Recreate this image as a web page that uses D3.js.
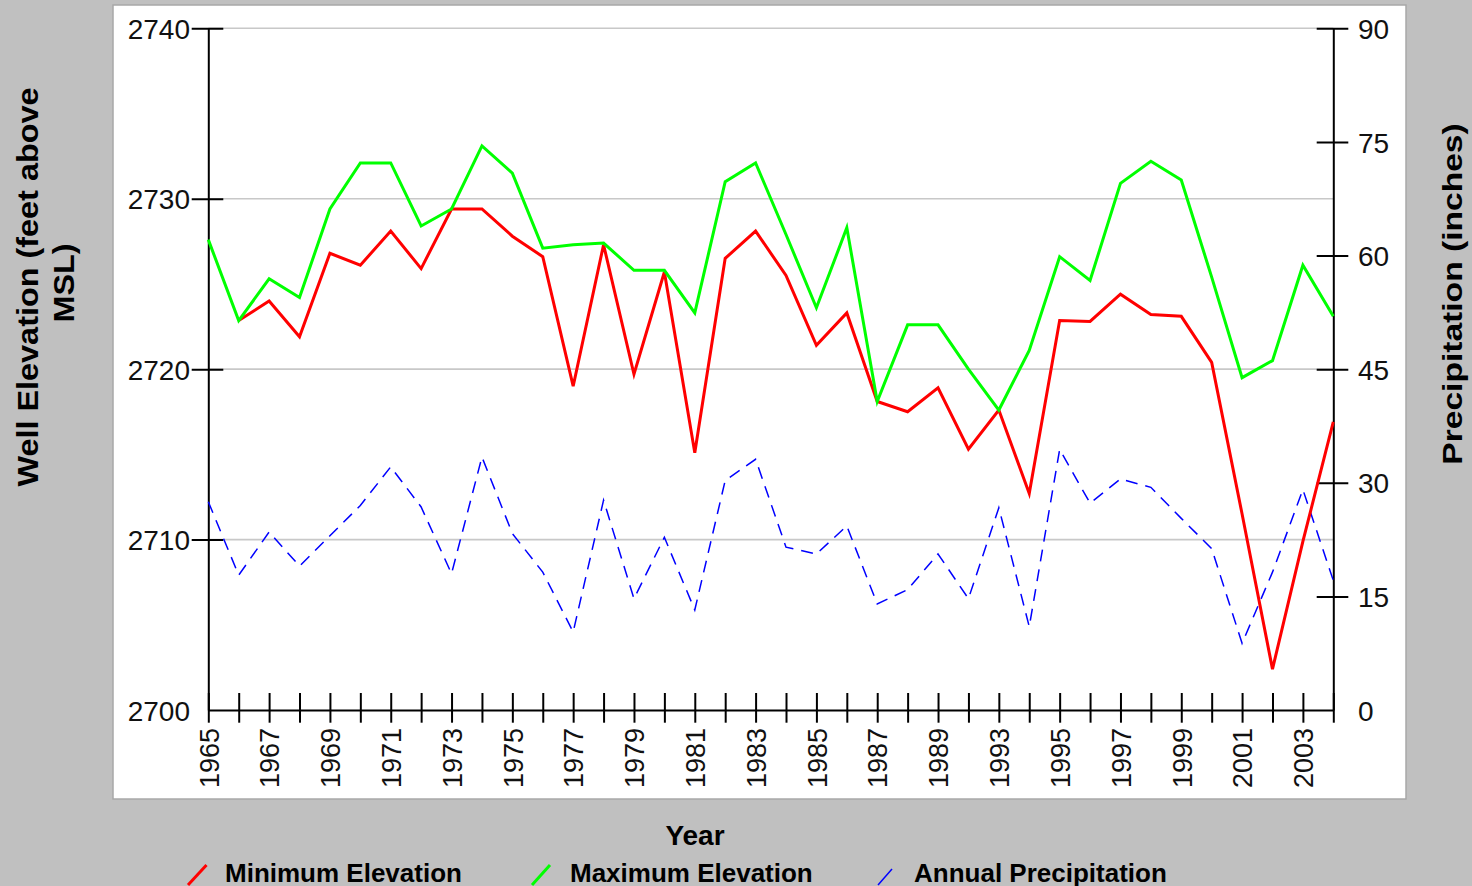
<!DOCTYPE html>
<html>
<head>
<meta charset="utf-8">
<script src="https://cdn.jsdelivr.net/npm/d3@7"></script>
<style>
  body { margin: 0; background: #c0c0c0; }
  svg { display: block; }
</style>
</head>
<body>
<svg id="chart" width="1472" height="886"></svg>
<script>
// categories (1990 and 1992 are not in the record)
var years = ["1965","1966","1967","1968","1969","1970","1971","1972","1973","1974",
             "1975","1976","1977","1978","1979","1980","1981","1982","1983","1984",
             "1985","1986","1987","1988","1989","1991","1993","1994","1995","1996",
             "1997","1998","1999","2000","2001","2002","2003","2004"];

var minElev = [null, 2722.85, 2724.0, 2721.9, 2726.8, 2726.1, 2728.1, 2725.9, 2729.4, 2729.4,
               2727.8, 2726.6, 2719.0, 2727.3, 2719.7, 2725.7, 2715.1, 2726.5, 2728.1, 2725.5,
               2721.4, 2723.3, 2718.1, 2717.5, 2718.9, 2715.3, 2717.6, 2712.7, 2722.85, 2722.8,
               2724.4, 2723.2, 2723.1, 2720.4, 2711.5, 2702.4, 2709.9, 2716.9];

var maxElev = [2727.6, 2722.85, 2725.3, 2724.2, 2729.4, 2732.1, 2732.1, 2728.4, 2729.4, 2733.1,
               2731.5, 2727.1, 2727.3, 2727.4, 2725.8, 2725.8, 2723.3, 2731.0, 2732.1, 2727.9,
               2723.6, 2728.3, 2718.1, 2722.6, 2722.6, 2720.0, 2717.6, 2721.1, 2726.6, 2725.2,
               2730.9, 2732.2, 2731.1, 2725.4, 2719.5, 2720.5, 2726.1, 2723.1];

var precip = [27.5, 17.8, 23.5, 19.0, 23.0, 27.0, 32.1, 26.8, 18.0, 33.4,
              23.3, 18.2, 10.3, 27.7, 14.7, 22.8, 13.2, 30.3, 33.1, 21.5,
              20.6, 24.3, 14.0, 15.9, 20.6, 14.7, 26.7, 11.0, 34.4, 27.3,
              30.5, 29.4, 25.3, 21.3, 8.8, 18.2, 29.1, 17.1];

var leftTicks = [2700, 2710, 2720, 2730, 2740];
var rightTicks = [0, 15, 30, 45, 60, 75, 90];

var seriesNames = ["Minimum Elevation", "Maximum Elevation", "Annual Precipitation"];
var seriesColors = ["#ff0000", "#00ff00", "#0000ff"];

var fontFam = "'Liberation Sans', Arial, sans-serif";

var svg = d3.select("#chart");

var plotL = 208.3, plotR = 1333.3, plotT = 28.3, plotB = 710;

var x = d3.scalePoint().domain(years).range([plotL, plotR]);
var yL = d3.scaleLinear().domain([2700, 2740]).range([plotB, plotT]);
var yR = d3.scaleLinear().domain([0, 90]).range([plotB, plotT]);

// white chart panel
svg.append("rect")
   .attr("x", 113).attr("y", 5)
   .attr("width", 1293).attr("height", 794)
   .attr("fill", "#ffffff")
   .attr("stroke", "#a8a8a8")
   .attr("stroke-width", 1.5);

// grid lines
svg.append("g").selectAll("line")
   .data(leftTicks.filter(function(d){ return d > 2700; }))
   .enter().append("line")
   .attr("x1", plotL).attr("x2", plotR)
   .attr("y1", function(d){ return yL(d); })
   .attr("y2", function(d){ return yL(d); })
   .attr("stroke", "#c8c8c8")
   .attr("stroke-width", 1.6);

// left axis
var gL = svg.append("g")
   .attr("transform", "translate(" + plotL + ",0)")
   .call(d3.axisLeft(yL).tickValues(leftTicks).tickFormat(d3.format("d"))
          .tickSize(16.6).tickSizeOuter(0).tickPadding(1.7));
gL.selectAll(".tick line").attr("x1", 15);
gL.selectAll(".tick").filter(function(d){ return d === 2700; }).select("line").remove();

// right axis
var gR = svg.append("g")
   .attr("transform", "translate(" + plotR + ",0)")
   .call(d3.axisRight(yR).tickValues(rightTicks).tickFormat(d3.format("d"))
          .tickSize(15).tickSizeOuter(0).tickPadding(9.7));
gR.selectAll(".tick line").attr("x1", -16.6);
gR.selectAll(".tick").filter(function(d){ return d === 0; }).select("line").remove();

// bottom axis
var gB = svg.append("g")
   .attr("transform", "translate(0," + plotB + ")")
   .call(d3.axisBottom(x).tickSize(12.7).tickSizeOuter(0)
          .tickFormat(function(d, i){ return i % 2 === 0 ? d : ""; }));
gB.selectAll(".tick line").attr("y1", -17);
gB.selectAll(".tick text")
   .attr("transform", "rotate(-90)")
   .attr("x", -18)
   .attr("y", 0)
   .attr("dy", "0.36em")
   .style("text-anchor", "end")
   .style("font-size", "27px");

[gL, gR, gB].forEach(function(g) {
  g.select(".domain").attr("stroke", "#000").attr("stroke-width", 2);
  g.selectAll(".tick line").attr("stroke", "#000").attr("stroke-width", 2);
  g.selectAll("text").attr("fill", "#111").style("font-family", fontFam);
});
gL.selectAll("text").style("font-size", "28px").attr("dy", "0.36em");
gR.selectAll("text").style("font-size", "28px").attr("dy", "0.36em");

// lines
var data = years.map(function(yr, i) {
  return { year: yr, mn: minElev[i], mx: maxElev[i], p: precip[i] };
});

var linePrecip = d3.line()
  .x(function(d){ return x(d.year); })
  .y(function(d){ return yR(d.p); });
var lineMin = d3.line()
  .defined(function(d){ return d.mn !== null; })
  .x(function(d){ return x(d.year); })
  .y(function(d){ return yL(d.mn); });
var lineMax = d3.line()
  .x(function(d){ return x(d.year); })
  .y(function(d){ return yL(d.mx); });

svg.append("path").datum(data)
   .attr("fill", "none")
   .attr("stroke", seriesColors[2])
   .attr("stroke-width", 1.5)
   .attr("stroke-dasharray", "12,8")
   .attr("d", linePrecip);

svg.append("path").datum(data)
   .attr("fill", "none")
   .attr("stroke", seriesColors[0])
   .attr("stroke-width", 3)
   .attr("d", lineMin);

svg.append("path").datum(data)
   .attr("fill", "none")
   .attr("stroke", seriesColors[1])
   .attr("stroke-width", 3)
   .attr("d", lineMax);

// axis titles
svg.append("text")
   .attr("transform", "translate(38,287) rotate(-90) scale(1.08,1)")
   .style("text-anchor", "middle")
   .style("font-family", fontFam)
   .style("font-weight", "bold")
   .style("font-size", "30px")
   .attr("fill", "#000")
   .text("Well Elevation (feet above");
svg.append("text")
   .attr("transform", "translate(74,283) rotate(-90) scale(1.08,1)")
   .style("text-anchor", "middle")
   .style("font-family", fontFam)
   .style("font-weight", "bold")
   .style("font-size", "30px")
   .attr("fill", "#000")
   .text("MSL)");

svg.append("text")
   .attr("transform", "translate(1462,294) rotate(-90) scale(1.2,1)")
   .style("text-anchor", "middle")
   .style("font-family", fontFam)
   .style("font-weight", "bold")
   .style("font-size", "28px")
   .attr("fill", "#000")
   .text("Precipitation (inches)");

svg.append("text")
   .attr("x", 695).attr("y", 845)
   .style("text-anchor", "middle")
   .style("font-family", fontFam)
   .style("font-weight", "bold")
   .style("font-size", "28px")
   .attr("fill", "#000")
   .text("Year");

// legend
var legendX = [188, 532, 878];
var legendW = [18.5, 18, 14];
var legend = svg.append("g").selectAll("g")
   .data(seriesNames)
   .enter().append("g")
   .attr("transform", function(d, i){ return "translate(" + legendX[i] + ",0)"; });

legend.append("line")
   .attr("x1", 0).attr("y1", 885)
   .attr("x2", function(d, i){ return legendW[i]; })
   .attr("y2", function(d, i){ return i === 2 ? 869 : 865; })
   .attr("stroke", function(d, i){ return seriesColors[i]; })
   .attr("stroke-width", function(d, i){ return i === 2 ? 1.5 : 3; });

legend.append("text")
   .attr("x", function(d, i){ return i === 2 ? 36 : (i === 0 ? 37 : 38); })
   .attr("y", 882)
   .style("font-family", fontFam)
   .style("font-weight", "bold")
   .style("font-size", "26px")
   .attr("fill", "#000")
   .text(function(d){ return d; });
</script>
</body>
</html>
